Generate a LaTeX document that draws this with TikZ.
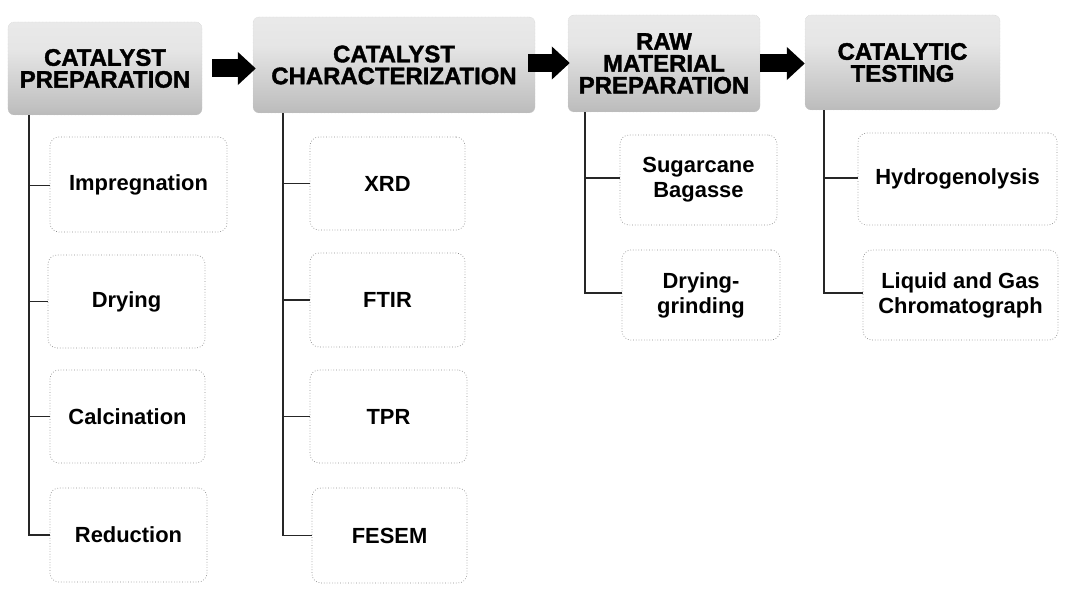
\documentclass[tikz,border=0pt]{standalone}
\usepackage{fontspec}
\setmainfont{Liberation Sans}
\newfontfamily\heavyfont{Liberation Sans}[BoldFeatures={FakeBold=1.6}]
\usetikzlibrary{arrows.meta}
\pgfdeclareverticalshading{hdrshade}{100bp}{color(0bp)=(black!40); color(30bp)=(black!24); color(60bp)=(black!10); color(100bp)=(black!6)}
\begin{document}
\begin{tikzpicture}[x=1bp,y=-1bp,
  hdr/.style={shading=hdrshade, draw=black!22, densely dotted, rounded corners=6bp,
    align=center, inner sep=0pt, font=\heavyfont\fontsize{24}{22}\selectfont\bfseries},
  item/.style={draw=black!45, dotted, line width=0.7bp, rounded corners=9bp, align=center,
    inner sep=0pt, font=\fontsize{22}{25}\selectfont\bfseries},
  tree/.style={draw=black!85, line width=1.6bp},
  flow/.style={draw=black, line width=18bp, -{Triangle[length=18bp,width=32bp]}}]
\useasboundingbox (0,0) rectangle (1066,603);
% headers
\node[hdr, minimum width=194bp, minimum height=93bp] (h1) at (105,68.5) {CATALYST\\PREPARATION};
\node[hdr, minimum width=282bp, minimum height=96bp] (h2) at (394,65) {CATALYST\\CHARACTERIZATION};
\node[hdr, minimum width=192bp, minimum height=97bp] (h3) at (664,63.5) {RAW\\MATERIAL\\PREPARATION};
\node[hdr, minimum width=195bp, minimum height=95bp] (h4) at (902.5,62.5) {CATALYTIC\\TESTING};
% flow arrows
\draw[flow, shorten <=10bp, shorten >=-3bp] (h1.east) -- (h1.east -| h2.west);
\draw[flow, shorten <=-7bp, shorten >=-2bp] ([yshift=2bp]h2.east) -- ([yshift=2bp]h2.east -| h3.west);
\draw[flow, shorten <=0bp, shorten >=0bp] (h3.east) -- (h3.east -| h4.west);
% column 1
\node[item, minimum width=177bp, minimum height=95bp] (a1) at (138.5,184.5) {Impregnation};
\node[item, minimum width=157bp, minimum height=93bp] (a2) at (126.5,301.5) {Drying};
\node[item, minimum width=155bp, minimum height=93bp] (a3) at (127.5,416.5) {Calcination};
\node[item, minimum width=157bp, minimum height=94bp] (a4) at (128.5,535) {Reduction};
% column 2
\node[item, minimum width=155bp, minimum height=93bp] (b1) at (387.5,183.5) {XRD};
\node[item, minimum width=155bp, minimum height=94bp] (b2) at (387.5,300) {FTIR};
\node[item, minimum width=157bp, minimum height=93bp] (b3) at (388.5,416.5) {TPR};
\node[item, minimum width=155bp, minimum height=95bp] (b4) at (389.5,535.5) {FESEM};
% column 3
\node[item, minimum width=157bp, minimum height=90bp] (c1) at (698.5,180) {Sugarcane\\Bagasse};
\node[item, minimum width=158bp, minimum height=90bp] (c2) at (701,295) {Drying-\\grinding};
% column 4
\node[item, minimum width=199bp, minimum height=92bp] (d1) at (957.5,179) {Hydrogenolysis};
\node[item, minimum width=195bp, minimum height=90bp] (d2) at (960.5,295) {Liquid and Gas\\Chromatograph};
% tree connectors
\draw[tree] ([xshift=21bp]h1.south west) |- ([yshift=-1bp]a1.west);
\draw[tree] ([xshift=21bp]h1.south west) |- (a2.west);
\draw[tree] ([xshift=21bp]h1.south west) |- (a3.west);
\draw[tree] ([xshift=21bp]h1.south west) |- (a4.west);
\draw[tree] ([xshift=30bp]h2.south west) |- (b1.west);
\draw[tree] ([xshift=30bp]h2.south west) |- (b2.west);
\draw[tree] ([xshift=30bp]h2.south west) |- (b3.west);
\draw[tree] ([xshift=30bp]h2.south west) |- (b4.west);
\draw[tree] ([xshift=17bp]h3.south west) |- ([yshift=2bp]c1.west);
\draw[tree] ([xshift=17bp]h3.south west) |- ([yshift=2bp]c2.west);
\draw[tree] ([xshift=19bp]h4.south west) |- ([yshift=1bp]d1.west);
\draw[tree] ([xshift=19bp]h4.south west) |- ([yshift=2bp]d2.west);
\end{tikzpicture}
\end{document}
